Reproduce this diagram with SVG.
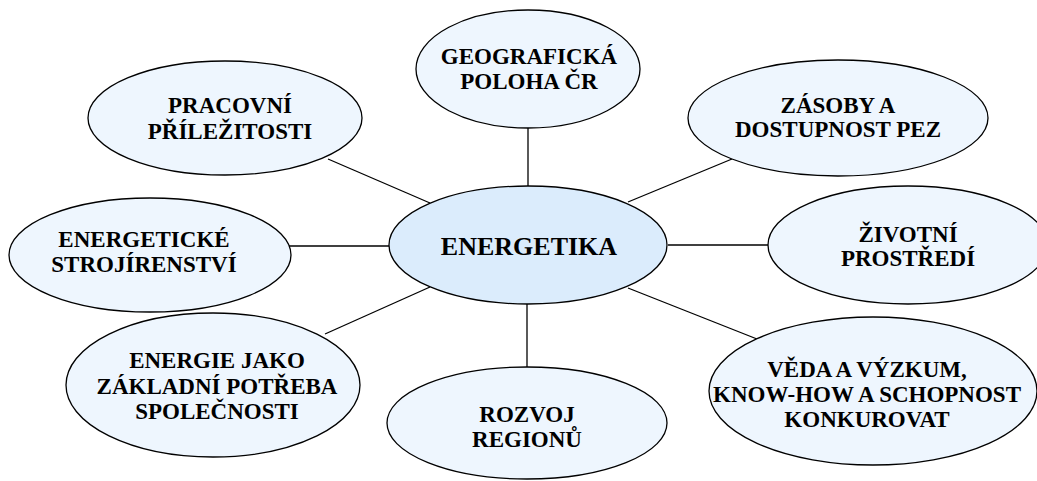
<svg xmlns="http://www.w3.org/2000/svg" width="1037" height="481" viewBox="0 0 1037 481">
<style>
.n{fill:#eef6fe;stroke:#000;stroke-width:1.3}
.c{fill:#dbecfc;stroke:#000;stroke-width:1.3}
.t{font-family:"Liberation Serif","DejaVu Serif",serif;font-weight:bold;font-size:23px;text-anchor:middle;fill:#000}
.tc{font-size:26px}
.l{stroke:#000;stroke-width:1.3;fill:none}
</style>
<rect width="1037" height="481" fill="#fff"/>
<g id="connectors">
<line class="l" x1="528" y1="128" x2="528" y2="186"/>
<line class="l" x1="527" y1="304" x2="527" y2="367"/>
<line class="l" x1="289" y1="246" x2="389" y2="246"/>
<line class="l" x1="668" y1="245" x2="768" y2="245"/>
<line class="l" x1="328" y1="159" x2="430" y2="203"/>
<line class="l" x1="325" y1="334" x2="430" y2="287"/>
<line class="l" x1="628" y1="202" x2="732" y2="159"/>
<line class="l" x1="628" y1="288" x2="757" y2="339"/>
</g>
<g id="geograficka">
<ellipse class="n" cx="528" cy="69" rx="112" ry="59"/>
<text class="t" x="529" y="64">GEOGRAFICKÁ</text>
<text class="t" x="529" y="89">POLOHA ČR</text>
</g>
<g id="pracovni">
<ellipse class="n" cx="225" cy="118" rx="137" ry="57"/>
<text class="t" x="230" y="113">PRACOVNÍ</text>
<text class="t" x="230" y="139">PŘÍLEŽITOSTI</text>
</g>
<g id="zasoby">
<ellipse class="n" cx="838" cy="118" rx="150" ry="58"/>
<text class="t" x="838" y="113">ZÁSOBY A</text>
<text class="t" x="838" y="137">DOSTUPNOST PEZ</text>
</g>
<g id="strojirenstvi">
<ellipse class="n" cx="150" cy="255" rx="141" ry="57"/>
<text class="t" x="144" y="247">ENERGETICKÉ</text>
<text class="t" x="144" y="272">STROJÍRENSTVÍ</text>
</g>
<g id="energetika">
<ellipse class="c" cx="528" cy="245" rx="139" ry="59"/>
<text class="t tc" x="529" y="255">ENERGETIKA</text>
</g>
<g id="zivotni">
<ellipse class="n" cx="908" cy="245" rx="140" ry="59"/>
<text class="t" x="908" y="242">ŽIVOTNÍ</text>
<text class="t" x="908" y="266">PROSTŘEDÍ</text>
</g>
<g id="energie">
<ellipse class="n" cx="213" cy="385" rx="147" ry="72"/>
<text class="t" x="217" y="368">ENERGIE JAKO</text>
<text class="t" x="217" y="394">ZÁKLADNÍ POTŘEBA</text>
<text class="t" x="217" y="419">SPOLEČNOSTI</text>
</g>
<g id="rozvoj">
<ellipse class="n" cx="527" cy="423" rx="140" ry="56"/>
<text class="t" x="527" y="422">ROZVOJ</text>
<text class="t" x="527" y="447">REGIONŮ</text>
</g>
<g id="veda">
<ellipse class="n" cx="873" cy="391" rx="164" ry="74"/>
<text class="t" x="867" y="377">VĚDA A VÝZKUM,</text>
<text class="t" x="867" y="402">KNOW-HOW A SCHOPNOST</text>
<text class="t" x="867" y="427">KONKUROVAT</text>
</g>
</svg>
